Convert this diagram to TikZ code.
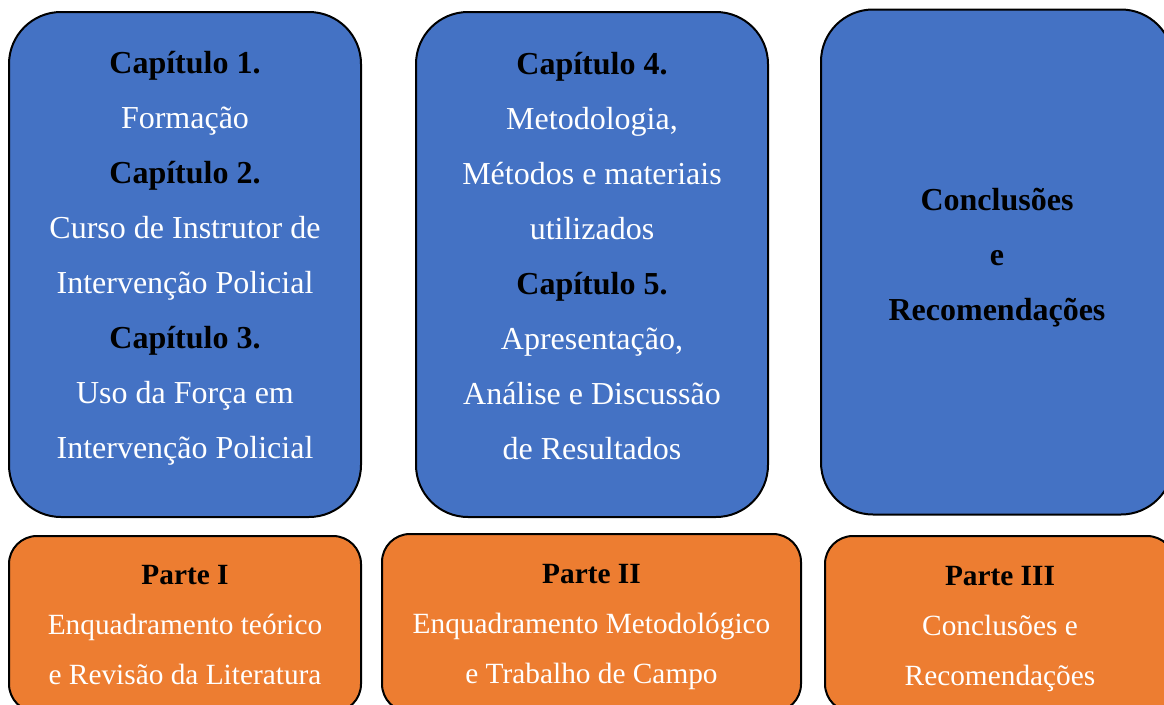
\documentclass[tikz,border=0pt]{standalone}
\usepackage{fontspec}
\setmainfont{Liberation Serif}
\usetikzlibrary{positioning}
\definecolor{azul}{HTML}{4472C4}
\definecolor{laranja}{HTML}{ED7D31}
\newcommand{\titulo}[1]{\textcolor{black}{\textbf{#1}}}

\begin{document}
\begin{tikzpicture}[x=0.75pt,y=-0.75pt,
  bloco/.style={draw=black,line width=1.5pt,fill=azul,rounded corners=39pt,minimum width=264pt,minimum height=378.75pt,inner sep=0pt},
  parte/.style={draw=black,line width=1.5pt,fill=laranja,rounded corners=21pt,minimum height=132pt,inner sep=0pt},
  txtazul/.style={text=white,align=center,font=\fontsize{24}{41.25}\selectfont},
  txtlaranja/.style={text=white,align=center,font=\fontsize{22}{37.5}\selectfont}]
\useasboundingbox (0,0) rectangle (1164,704);
\clip (0,0) rectangle (1164,704);
% chapter blocks
\node[bloco] (cap1) at (185,264.5) {};
\node[bloco] (cap2) at (592,264.5) {};
\node[bloco] (conc) at (997,262) {};
\node[txtazul] (txtcap1) at ([yshift=4.5pt]cap1.center)
  {\titulo{Capítulo 1.}\\Formação\\\titulo{Capítulo 2.}\\Curso de Instrutor de\\Intervenção Policial\\\titulo{Capítulo 3.}\\Uso da Força em\\Intervenção Policial};
\node[txtazul] (txtcap2) at ([yshift=6pt]cap2.center)
  {\titulo{Capítulo 4.}\\Metodologia,\\Métodos e materiais\\utilizados\\\titulo{Capítulo 5.}\\Apresentação,\\Análise e Discussão\\de Resultados};
\node[txtazul] (txtconc) at ([yshift=3.4pt]conc.center)
  {\titulo{Conclusões}\\\titulo{e}\\\titulo{Recomendações}};
% parts
\node[parte,minimum width=264pt] (parte1) at (185,624) {};
\node[parte,minimum width=314.25pt,minimum height=133.5pt] (parte2) at (591.5,623) {};
\node[parte,minimum width=262.5pt] (parte3) at (1000,624) {};
\node[txtlaranja] (txtp1) at ([yshift=-0.6pt]parte1.center) {\titulo{Parte I}\\Enquadramento teórico\\e Revisão da Literatura};
\node[txtlaranja] (txtp2) at ([yshift=-3pt]parte2.center) {\titulo{Parte II}\\Enquadramento Metodológico\\e Trabalho de Campo};
\node[txtlaranja] (txtp3) at ([yshift=-3.4pt]parte3.center) {\titulo{Parte III}\\Conclusões e\\Recomendações};
\end{tikzpicture}
\end{document}
